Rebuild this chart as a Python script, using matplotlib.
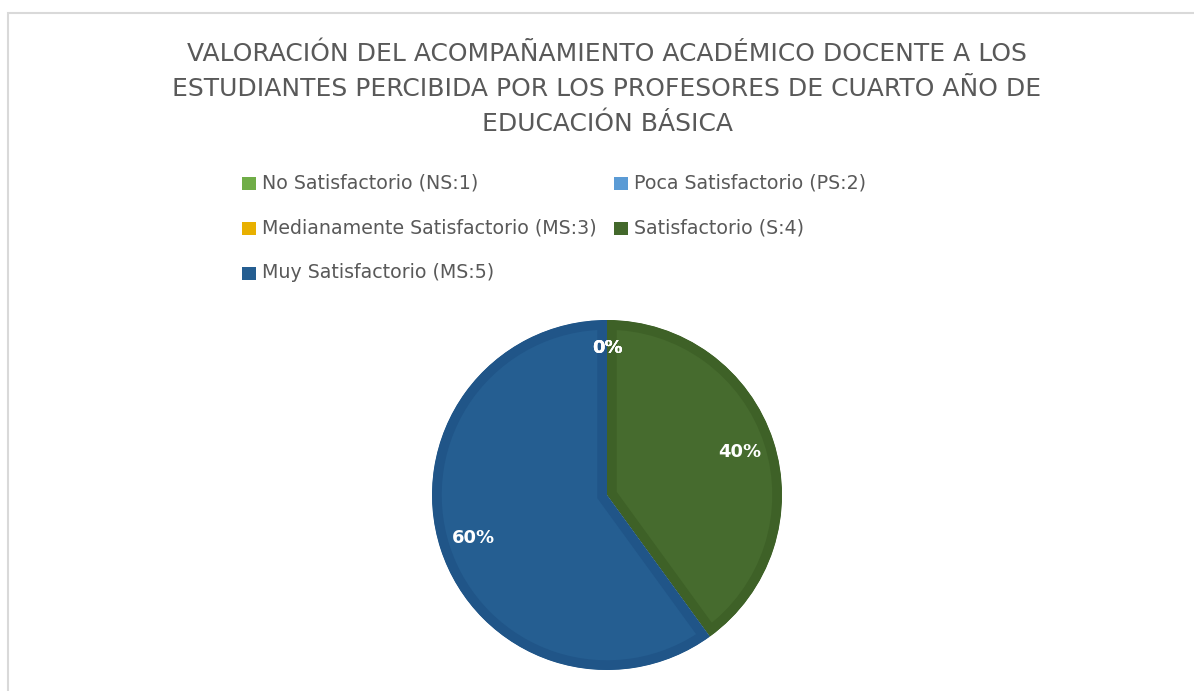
import matplotlib.pyplot as plt
from matplotlib.patches import Rectangle

# data
categories = ["No Satisfactorio (NS:1)", "Poca Satisfactorio (PS:2)",
              "Medianamente Satisfactorio (MS:3)", "Satisfactorio (S:4)",
              "Muy Satisfactorio (MS:5)"]
values = [0, 0, 0, 40, 60]
legend_colors = ["#70ad47", "#5b9bd5", "#e8b000", "#43682b", "#255e91"]
wedge_colors = ["#70ad47", "#5b9bd5", "#e8b000", "#466b2e", "#255e91"]
edge_colors = ["#70ad47", "#5b9bd5", "#e8b000", "#3e6127", "#205588"]
title = ("VALORACIÓN DEL ACOMPAÑAMIENTO ACADÉMICO DOCENTE A LOS\n"
         "ESTUDIANTES PERCIBIDA POR LOS PROFESORES DE CUARTO AÑO DE\n"
         "EDUCACIÓN BÁSICA")

plt.rcParams['font.family'] = ['DejaVu Sans']

W, H = 1194, 691
fig = plt.figure(figsize=(W / 100, H / 100), dpi=100)

# chart frame
fig.patches.append(Rectangle((8 / W, -0.1), 1.2, 1 - 13 / H + 0.1, transform=fig.transFigure,
                             fill=False, edgecolor="#d9d9d9", linewidth=1.5))

fig.text(607 / W, 1 - 89 / H, title, ha="center", va="center", fontsize=18,
         color="#595959", linespacing=1.58)

# legend built by hand (two columns)
leg_x = [242, 614]
leg_y = [183, 228, 273]
for i, (lab, col) in enumerate(zip(categories, legend_colors)):
    x = leg_x[i % 2]
    y = leg_y[i // 2]
    fig.patches.append(Rectangle((x / W, 1 - (y + 6.5) / H), 14 / W, 13 / H,
                                 transform=fig.transFigure, facecolor=col, edgecolor="none"))
    fig.text((x + 20) / W, 1 - y / H, lab, ha="left", va="center", fontsize=13.7, color="#595959")

cx, cy, r = 607, 495, 175
ax = fig.add_axes([(cx - r) / W, (H - cy - r) / H, 2 * r / W, 2 * r / H])
wedges, texts, autotexts = ax.pie(values, colors=wedge_colors, startangle=90, counterclock=False,
                                  radius=1, autopct="%1.0f%%", pctdistance=0.8,
                                  textprops=dict(color="white", fontsize=13, fontweight="bold"))
# inner bevel: thick edge clipped to the wedge itself
for w, ec, v in zip(wedges, edge_colors, values):
    w.set_edgecolor(ec)
    w.set_linewidth(14 if v > 0 else 0)
    w.set_clip_path(w)
    w.set_clip_on(True)
for t, v in zip(autotexts, values):
    if v == 0:
        t.set_position((0, 0.84))
ax.set_xlim(-1, 1)
ax.set_ylim(-1, 1)
ax.set_aspect("equal")
ax.axis("off")

fig.savefig("out.png", dpi=100)
